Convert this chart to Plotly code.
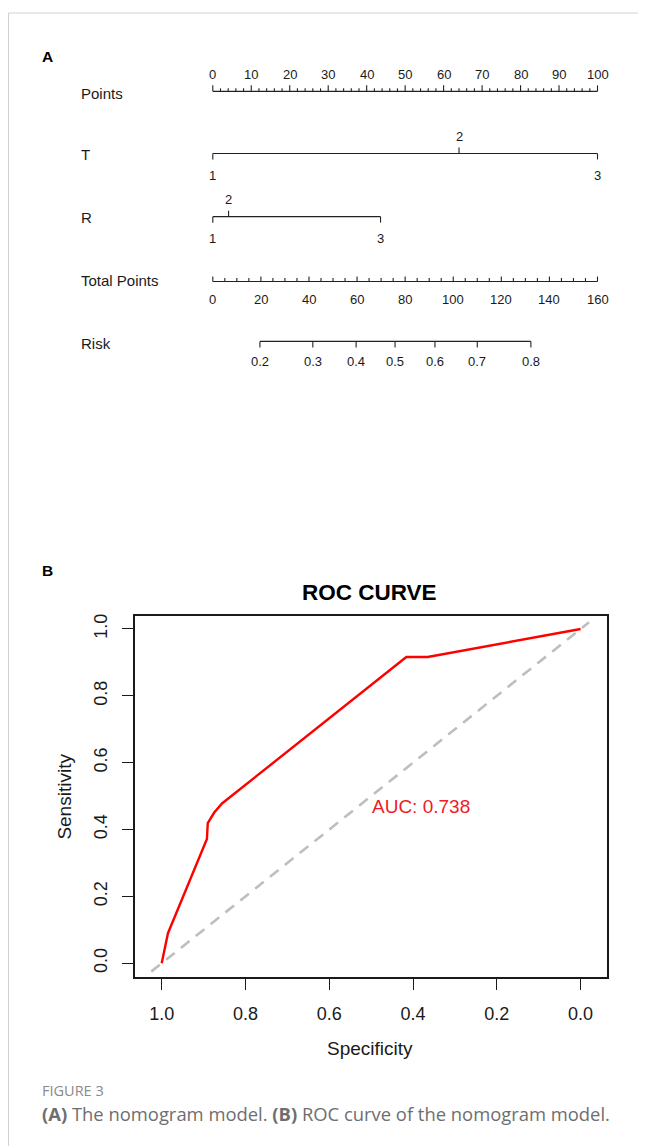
import plotly.graph_objects as go

# ---------------- Nomogram data (panel A) ----------------
points_major = list(range(0, 101, 10))
points_minor = [p for p in range(0, 101, 2) if p % 10]
t_levels = ["1", "2", "3"]
t_points = [0, 64, 100]
r_levels = ["1", "2", "3"]
r_points = [0, 4.1, 43.6]
total_major = list(range(0, 161, 20))
total_minor = [v for v in range(0, 161, 5) if v % 20]
risk_labels = ["0.2", "0.3", "0.4", "0.5", "0.6", "0.7", "0.8"]
risk_total_points = [19.6, 41.6, 59.6, 75.8, 92.4, 110.0, 132.3]
row_labels = ["Points", "T", "R", "Total Points", "Risk"]

# ---------------- ROC data (panel B) ----------------
specificity = [1.0, 0.985, 0.892, 0.890, 0.875, 0.856, 0.416, 0.365, 0.0]
sensitivity = [0.0, 0.090, 0.372, 0.419, 0.450, 0.478, 0.916, 0.916, 1.0]
chance_spec = [1.025, -0.02]
chance_sens = [-0.025, 1.02]
auc_value = 0.738
roc_ticks = [1.0, 0.8, 0.6, 0.4, 0.2, 0.0]

# page geometry: the html body adds an 8px margin, so the figure is drawn
# 8px smaller and every page-pixel position is shifted by that offset
OFF = 8
W, H = 646 - OFF, 1146 - OFF
FONT = "Liberation Sans, Arial, sans-serif"
INK = "#1a1a1a"


def px(x):
    return (x - OFF) / W


def py(y):
    return 1 - (y - OFF) / H


# pixel geometry of the nomogram scale (page pixels)
PX0, PX100 = 212.8, 597.5
PPU = (PX100 - PX0) / 100.0
x_range = [-(PX0 - OFF) / PPU, (W + OFF - PX0) / PPU]
x3_range = [v * 1.6 for v in x_range]
y_range = [H + OFF, OFF]   # y axis in page pixels (top -> bottom)

fig = go.Figure()


def ticks(xs, y0, y1):
    X, Y = [], []
    for x in xs:
        X += [x, x, None]
        Y += [y0, y1, None]
    return X, Y


def add_lines(X, Y, xaxis="x", width=1.1):
    fig.add_trace(go.Scatter(x=X, y=Y, mode="lines", xaxis=xaxis, yaxis="y",
                             line=dict(color="#222222", width=width),
                             hoverinfo="skip", showlegend=False))


def add_text(x, y, text, xref="x", size=13, anchor="center"):
    fig.add_annotation(x=x, y=y, xref=xref, yref="y", text=text, showarrow=False,
                       xanchor=anchor, yanchor="middle",
                       font=dict(family=FONT, size=size, color=INK))


# Points axis
yP = 89.5
add_lines([0, 100], [yP, yP])
X, Y = ticks(points_major, yP, yP - 6); add_lines(X, Y)
X, Y = ticks(points_minor, yP, yP - 3); add_lines(X, Y)
for p in points_major:
    add_text(p, 73, str(p))

# T axis
yT = 151.7
add_lines([min(t_points), max(t_points)], [yT, yT])
for lev, p in zip(t_levels, t_points):
    up = lev == "2"
    X, Y = ticks([p], yT, yT - 6 if up else yT + 6); add_lines(X, Y)
    add_text(p, 135 if up else 173.3, lev)

# R axis
yR = 215
add_lines([min(r_points), max(r_points)], [yR, yR])
for lev, p in zip(r_levels, r_points):
    up = lev == "2"
    X, Y = ticks([p], yR, yR - 6 if up else yR + 6); add_lines(X, Y)
    add_text(p, 198.3 if up else 236.7, lev)

# Total points axis (x3: total points units)
yTP = 280
add_lines([0, 160], [yTP, yTP], xaxis="x3")
X, Y = ticks(total_major, yTP, yTP - 5); add_lines(X, Y, xaxis="x3")
X, Y = ticks(total_minor, yTP, yTP - 3.5); add_lines(X, Y, xaxis="x3")
for v in total_major:
    add_text(v, 298.3, str(v), xref="x3")

# Risk axis
yRk = 340
add_lines([risk_total_points[0], risk_total_points[-1]], [yRk, yRk], xaxis="x3")
X, Y = ticks(risk_total_points, yRk, yRk + 6); add_lines(X, Y, xaxis="x3")
for lab, v in zip(risk_labels, risk_total_points):
    add_text(v, 360, lab, xref="x3")

# Row labels
for lab, yy in zip(row_labels, [92, 153, 216, 279, 342]):
    fig.add_annotation(x=px(79), y=yy, xref="paper", yref="y", text=lab,
                       showarrow=False, xanchor="left", yanchor="middle",
                       font=dict(family=FONT, size=15, color=INK))

# ---------------- ROC panel ----------------
fig.add_trace(go.Scatter(x=chance_spec, y=chance_sens, mode="lines", xaxis="x2", yaxis="y2",
                         line=dict(color="#bebebe", width=2.6, dash="11px,8px"),
                         hoverinfo="skip", showlegend=False, cliponaxis=False))
fig.add_trace(go.Scatter(x=specificity, y=sensitivity, mode="lines", xaxis="x2", yaxis="y2",
                         line=dict(color="#ff0000", width=2.4),
                         hoverinfo="skip", showlegend=False))
fig.add_annotation(x=0.503, y=0.469, xref="x2", yref="y2", text=f"AUC: {auc_value:.3f}",
                   showarrow=False, xanchor="left", yanchor="middle",
                   font=dict(family=FONT, size=19, color="#ee1c25"))


def page_text(x, y, text, size, bold=False, anchor="center", color=INK, angle=0, family=FONT):
    fig.add_annotation(x=px(x), y=py(y), xref="paper", yref="paper",
                       text=f"<b>{text}</b>" if bold else text, showarrow=False,
                       xanchor=anchor, yanchor="middle", textangle=angle,
                       font=dict(family=family, size=size, color=color))


page_text(369.5, 591.7, "ROC CURVE", 22.5, bold=True, color="#000000")
page_text(370, 1048, "Specificity", 19)
page_text(65, 796, "Sensitivity", 19, angle=-90)
page_text(40, 55, "A", 15.5, bold=True, anchor="left", color="#000000")
page_text(40, 569, "B", 15.5, bold=True, anchor="left", color="#000000")
CAP = "Open Sans, Noto Sans, sans-serif"
page_text(40, 1090, "FIGURE 3", 14.5, anchor="left", color="#8a8a8a", family=CAP)
page_text(40, 1113, "<b>(A)</b> The nomogram model. <b>(B)</b> ROC curve of the nomogram model.",
          18.4, anchor="left", color="#6e6e6e", family=CAP)

# light border of the figure card
fig.add_shape(type="rect", xref="paper", yref="paper", x0=px(8.5), x1=1.05, y0=-0.05,
              y1=py(11), line=dict(color="#d2d2d2", width=1), fillcolor="rgba(0,0,0,0)")

axis_off = dict(visible=False, showgrid=False, zeroline=False, fixedrange=True)
roc_axis = dict(showline=True, mirror=True, linecolor="#1a1a1a", linewidth=1.5,
                ticks="outside", ticklen=11, tickwidth=1.3, tickcolor="#1a1a1a",
                showgrid=False, zeroline=False, tickvals=roc_ticks,
                ticktext=[f"{v:.1f}" for v in roc_ticks],
                tickfont=dict(family=FONT, size=18, color=INK), ticklabelstandoff=8)

fig.update_layout(
    width=W, height=H, margin=dict(l=0, r=0, t=0, b=0),
    paper_bgcolor="white", plot_bgcolor="rgba(0,0,0,0)",
    xaxis=dict(domain=[0, 1], range=x_range, anchor="y", **axis_off),
    xaxis3=dict(domain=[0, 1], range=x3_range, overlaying="x", anchor="y", **axis_off),
    yaxis=dict(domain=[0, 1], range=y_range, anchor="x", **axis_off),
    xaxis2=dict(domain=[px(135), px(607)], range=[1.0637, -0.063], anchor="y2", **roc_axis),
    yaxis2=dict(domain=[py(977), py(615)], range=[-0.042, 1.039], anchor="x2",
                tickangle=-90, **roc_axis),
    showlegend=False,
)

fig.write_html("out.html")
